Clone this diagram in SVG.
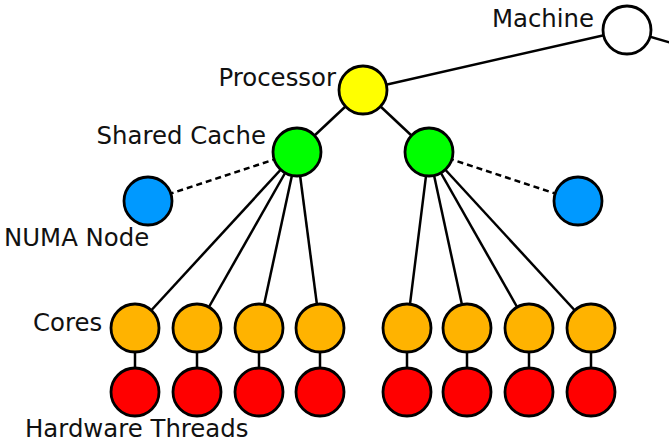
<svg xmlns="http://www.w3.org/2000/svg" width="669" height="442" viewBox="0 0 669 442">
<style>
.e{stroke:#000;stroke-width:2.5;fill:none}
.d{stroke:#000;stroke-width:2.5;fill:none;stroke-dasharray:6,4}
.n{stroke:#000;stroke-width:2.8}
.t{font-family:"DejaVu Sans",sans-serif;font-size:24.4px;fill:#111}
</style>
<rect width="669" height="442" fill="#fff"/>
<g id="connectors">
<line class="e" x1="627" y1="30" x2="720" y2="57"/>
<line class="e" x1="363" y1="90" x2="627" y2="30"/>
<line class="e" x1="363" y1="90" x2="297" y2="152"/>
<line class="e" x1="363" y1="90" x2="429" y2="152"/>
<line class="d" x1="297" y1="152" x2="148" y2="201"/>
<line class="d" x1="429" y1="152" x2="578" y2="201"/>
<line class="e" x1="297" y1="152" x2="135" y2="328"/>
<line class="e" x1="297" y1="152" x2="197" y2="328"/>
<line class="e" x1="297" y1="152" x2="259" y2="328"/>
<line class="e" x1="297" y1="152" x2="320" y2="328"/>
<line class="e" x1="429" y1="152" x2="407" y2="328"/>
<line class="e" x1="429" y1="152" x2="467" y2="328"/>
<line class="e" x1="429" y1="152" x2="529" y2="328"/>
<line class="e" x1="429" y1="152" x2="591" y2="328"/>
<line class="e" x1="135" y1="328" x2="135" y2="392"/>
<line class="e" x1="197" y1="328" x2="197" y2="392"/>
<line class="e" x1="259" y1="328" x2="259" y2="392"/>
<line class="e" x1="320" y1="328" x2="320" y2="392"/>
<line class="e" x1="407" y1="328" x2="407" y2="392"/>
<line class="e" x1="467" y1="328" x2="467" y2="392"/>
<line class="e" x1="529" y1="328" x2="529" y2="392"/>
<line class="e" x1="591" y1="328" x2="591" y2="392"/>
</g>
<g id="machine"><circle class="n" cx="627" cy="30" r="24" fill="#fff"/><text class="t" x="594" y="27" text-anchor="end">Machine</text></g>
<g id="processor"><circle class="n" cx="363" cy="90" r="24" fill="#ffff00"/><text class="t" x="336" y="86" text-anchor="end">Processor</text></g>
<g id="cache1"><circle class="n" cx="297" cy="152" r="24" fill="#00ff00"/><text class="t" x="266" y="144" text-anchor="end">Shared Cache</text></g>
<g id="cache2"><circle class="n" cx="429" cy="152" r="24" fill="#00ff00"/></g>
<g id="numa1"><circle class="n" cx="148" cy="201" r="24" fill="#0099ff"/><text class="t" x="4" y="246">NUMA Node</text></g>
<g id="numa2"><circle class="n" cx="578" cy="201" r="24" fill="#0099ff"/></g>
<g id="cores">
<text class="t" x="33" y="331">Cores</text>
<circle class="n" cx="135" cy="328" r="24" fill="#ffb300"/>
<circle class="n" cx="197" cy="328" r="24" fill="#ffb300"/>
<circle class="n" cx="259" cy="328" r="24" fill="#ffb300"/>
<circle class="n" cx="320" cy="328" r="24" fill="#ffb300"/>
<circle class="n" cx="407" cy="328" r="24" fill="#ffb300"/>
<circle class="n" cx="467" cy="328" r="24" fill="#ffb300"/>
<circle class="n" cx="529" cy="328" r="24" fill="#ffb300"/>
<circle class="n" cx="591" cy="328" r="24" fill="#ffb300"/>
</g>
<g id="threads">
<text class="t" x="25" y="437">Hardware Threads</text>
<circle class="n" cx="135" cy="392" r="24" fill="#ff0000"/>
<circle class="n" cx="197" cy="392" r="24" fill="#ff0000"/>
<circle class="n" cx="259" cy="392" r="24" fill="#ff0000"/>
<circle class="n" cx="320" cy="392" r="24" fill="#ff0000"/>
<circle class="n" cx="407" cy="392" r="24" fill="#ff0000"/>
<circle class="n" cx="467" cy="392" r="24" fill="#ff0000"/>
<circle class="n" cx="529" cy="392" r="24" fill="#ff0000"/>
<circle class="n" cx="591" cy="392" r="24" fill="#ff0000"/>
</g>
</svg>
